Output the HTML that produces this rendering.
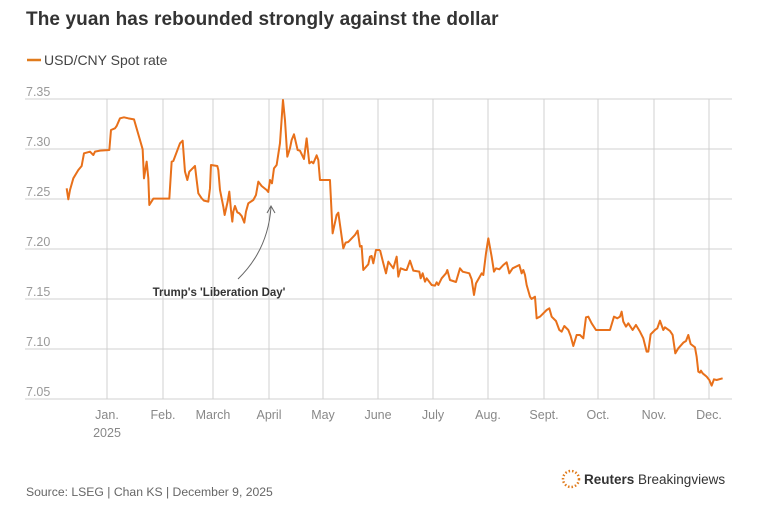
<!DOCTYPE html>
<html><head><meta charset="utf-8"><style>
body{margin:0;background:#fff;width:759px;height:506px;overflow:hidden;font-family:"Liberation Sans",sans-serif;}
svg{position:absolute;left:0;top:0}
</style></head><body>
<svg width="759" height="506" viewBox="0 0 759 506" xmlns="http://www.w3.org/2000/svg" font-family="Liberation Sans, sans-serif">
<text x="26" y="25" font-size="19" font-weight="bold" fill="#333" letter-spacing="0.1">The yuan has rebounded strongly against the dollar</text>
<line x1="27" y1="60" x2="41" y2="60" stroke="#e07b1c" stroke-width="2.5"/>
<text x="44" y="65" font-size="14" fill="#444">USD/CNY Spot rate</text>
<g stroke="#d0d0d0" stroke-width="1">
<line x1="25" y1="99" x2="732" y2="99"/><line x1="25" y1="149" x2="732" y2="149"/><line x1="25" y1="199" x2="732" y2="199"/><line x1="25" y1="249" x2="732" y2="249"/><line x1="25" y1="299" x2="732" y2="299"/><line x1="25" y1="349" x2="732" y2="349"/><line x1="25" y1="399" x2="732" y2="399"/>
<line x1="107" y1="99" x2="107" y2="399"/><line x1="163" y1="99" x2="163" y2="399"/><line x1="213" y1="99" x2="213" y2="399"/><line x1="269" y1="99" x2="269" y2="399"/><line x1="323" y1="99" x2="323" y2="399"/><line x1="378" y1="99" x2="378" y2="399"/><line x1="433" y1="99" x2="433" y2="399"/><line x1="488" y1="99" x2="488" y2="399"/><line x1="544" y1="99" x2="544" y2="399"/><line x1="598" y1="99" x2="598" y2="399"/><line x1="654" y1="99" x2="654" y2="399"/><line x1="709" y1="99" x2="709" y2="399"/>
</g>
<g font-size="12.5" fill="#999">
<text x="26" y="96">7.35</text><text x="26" y="146">7.30</text><text x="26" y="196">7.25</text><text x="26" y="246">7.20</text><text x="26" y="296">7.15</text><text x="26" y="346">7.10</text><text x="26" y="396">7.05</text>
</g>
<g font-size="12.5" fill="#888" text-anchor="middle">
<text x="107" y="419">Jan.</text><text x="107" y="437">2025</text><text x="163" y="419">Feb.</text><text x="213" y="419">March</text><text x="269" y="419">April</text><text x="323" y="419">May</text><text x="378" y="419">June</text><text x="433" y="419">July</text><text x="488" y="419">Aug.</text><text x="544" y="419">Sept.</text><text x="598" y="419">Oct.</text><text x="654" y="419">Nov.</text><text x="709" y="419">Dec.</text>
</g>
<path d="M238,279 Q268,250 271,207" fill="none" stroke="#666" stroke-width="1"/>
<path d="M267,213 L271,206 L275,213" fill="none" stroke="#666" stroke-width="1"/>
<text x="219" y="296" font-size="11.5" font-weight="bold" fill="#333" text-anchor="middle">Trump's 'Liberation Day'</text>
<g fill="none" stroke="#e8701a" stroke-width="2" stroke-linejoin="round">
<polyline transform="translate(0,80) scale(0.3333)" vector-effect="non-scaling-stroke" points="200,325 205,358 210,330 220,295 235,270 245,258 252,220 270,215 280,225 285,215 300,212 328,210 333,150 345,145 350,138 360,115 372,112 385,115 402,118 420,180 428,208 432,295 440,245 445,295 448,375 460,356 508,356 515,245 520,243 540,190 548,182 555,275 562,300 568,275 575,268 585,258 590,300 595,340 605,355 612,362 625,365 630,325 633,255 652,258 655,270 660,330 665,355 670,380 674,405 683,365 688,335 693,390 697,425 700,395 705,378 712,397 718,400 725,408 733,428 738,395 745,370 760,360 768,345 775,305 785,318 800,330 805,336 810,300 816,310 822,265 830,255 840,190 849,60 855,120 862,230 870,205 875,180 882,163 893,210 900,212 912,237 920,175 928,250 935,245 940,250 950,226 955,240 960,300 990,300 998,460 1010,405 1015,398 1030,505 1037,488 1045,486 1065,465 1073,452 1080,500 1085,498 1090,570 1105,553 1110,530 1115,528 1120,550 1128,510 1140,510"/>
<polyline transform="translate(380,220) scale(0.3333)" vector-effect="non-scaling-stroke" points="0,90 10,130 18,160 25,125 40,145 50,110 55,170 62,145 75,150 80,150 90,122 100,152 118,155 122,175 128,160 135,185 140,175 155,195 165,197 170,187 175,195 185,175 198,160 202,150 210,180 228,186 240,145 248,155 268,160 275,178 282,225 288,190 305,160 310,165 318,100 325,55 335,110 342,155 348,145 358,148 370,135 380,127 388,160 398,145 418,135 425,160 430,150 435,165 440,195 450,230 455,237 465,230 470,295 480,290 500,270 508,265 515,290 528,303 538,330 545,335 553,318 565,330 572,348 580,378 590,345 600,345 610,355 618,292 625,290 635,310 648,330 690,330 702,290 712,295 720,290 725,275 730,305 738,320 745,310 758,330 768,315 780,335 790,355 800,395 805,395 812,343 825,330 832,325 840,302 850,330 855,322 870,333 878,345 886,400 895,385 910,368 918,363 925,345 932,372 945,382 950,410 955,455 960,458 963,452 968,460 980,470 988,480 995,497 1002,478 1010,480 1028,475"/>
</g>
<text x="26" y="496" font-size="12.2" fill="#666">Source: LSEG | Chan KS | December 9, 2025</text>
<circle cx="571" cy="479" r="8" fill="none" stroke="#e07b1c" stroke-width="2.5" stroke-dasharray="1.5 2"/>
<text x="584" y="484" font-size="13.5" fill="#333"><tspan font-weight="bold">Reuters</tspan> Breakingviews</text>
</svg>
</body></html>
